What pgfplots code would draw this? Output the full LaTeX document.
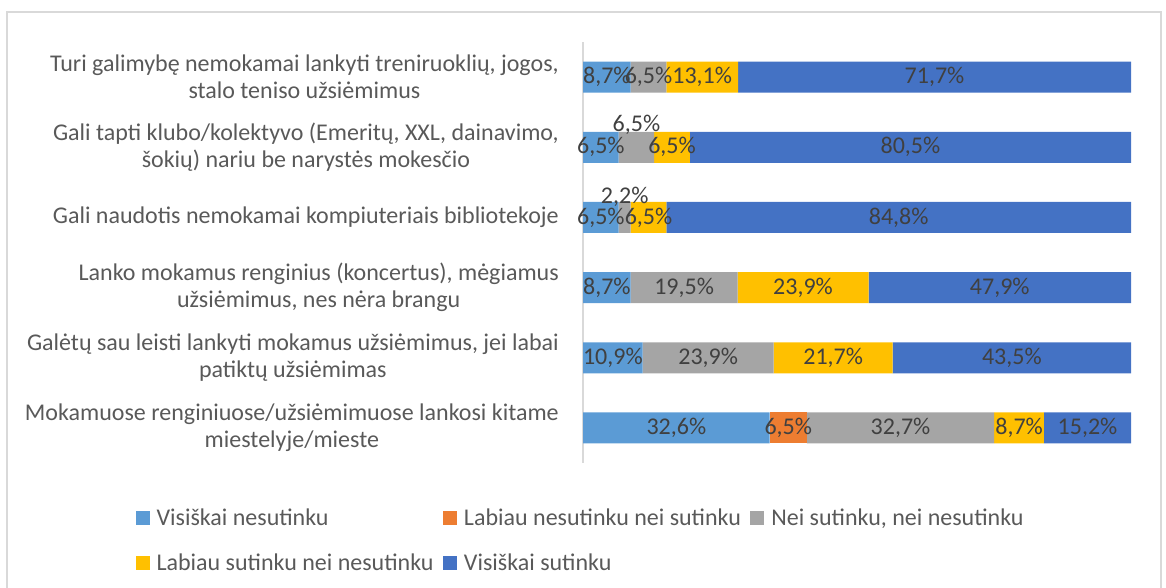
\documentclass[border=0pt]{standalone}
\usepackage{fontspec}
\setmainfont{Carlito}
\usepackage{pgfplots}
\usepackage{pgfplotstable}
\pgfplotsset{compat=1.18}
\definecolor{c1}{HTML}{5B9BD5}
\definecolor{c2}{HTML}{ED7D31}
\definecolor{c3}{HTML}{A5A5A5}
\definecolor{c4}{HTML}{FFC000}
\definecolor{c5}{HTML}{4472C4}
\definecolor{txt}{HTML}{595959}
\definecolor{lbl}{HTML}{404040}
\definecolor{axgray}{HTML}{D9D9D9}

\pgfplotstableread{
row a b c d e tot cs
0 8.7 0 6.5 13.1 71.7 100 0
1 6.5 0 6.5 6.5 80.5 100 0.32
2 6.5 0 2.2 6.5 84.8 100 0.30
3 8.7 0 19.5 23.9 47.9 100 0
4 10.9 0 23.9 21.7 43.5 100 0
5 32.6 6.5 32.7 8.7 15.2 95.7 0
}\data

\newcommand{\fnt}{\fontsize{18}{20.25}\selectfont}

\pgfplotsset{base/.style={scale only axis, width=411pt, height=315.75pt,
  at={(437.25pt,-31.5pt)}, anchor=north west,
  xmin=0, xmax=100, ymin=-0.5, ymax=5.5, y dir=reverse}}

\begin{document}
\begin{tikzpicture}
\useasboundingbox (0,0) rectangle (874.5pt,-440.25pt);
\draw[axgray, line width=1.5pt] (5.25pt,-8.75pt) rectangle (870.75pt,-470pt);
\begin{axis}[base,
  xbar stacked, bar width=23.25pt,
  axis x line=none, axis y line*=left,
  y axis line style={draw=axgray, line width=1.5pt},
  ytick={0,...,5}, major tick length=0pt,
  yticklabels={
    {Turi galimybę nemokamai lankyti treniruoklių, jogos,\\stalo teniso užsiėmimus},
    {Gali tapti klubo/kolektyvo (Emeritų, XXL, dainavimo,\\šokių) nariu be narystės mokesčio},
    {Gali naudotis nemokamai kompiuteriais bibliotekoje},
    {Lanko mokamus renginius (koncertus), mėgiamus\\užsiėmimus, nes nėra brangu},
    {Galėtų sau leisti lankyti mokamus užsiėmimus, jei labai\\patiktų užsiėmimas},
    {Mokamuose renginiuose/užsiėmimuose lankosi kitame\\miestelyje/mieste}},
  yticklabel style={font=\fnt, text=txt, align=center, inner sep=0pt, xshift=-18pt},
  legend columns=3,
  legend style={at={(-0.817,-0.105)}, anchor=north west, draw=none, fill=none,
    font=\fnt, text=txt, inner sep=0pt, row sep=18pt,
    nodes={inner xsep=2pt, inner ysep=1pt},
    /tikz/every odd column/.append style={column sep=3.25pt},
    /tikz/every even column/.append style={column sep=5pt}},
  legend cell align=left,
  legend image code/.code={\fill[#1] (0pt,-5.25pt) rectangle (10.5pt,5.25pt);},
]
\addplot[fill=c1, draw=none] table[y=row, x expr=\thisrow{a}*100/\thisrow{tot}]{\data};
\addlegendentry{Visiškai nesutinku}
\addplot[fill=c2, draw=none] table[y=row, x expr=\thisrow{b}*100/\thisrow{tot}]{\data};
\addlegendentry{Labiau nesutinku nei sutinku}
\addplot[fill=c3, draw=none] table[y=row, x expr=\thisrow{c}*100/\thisrow{tot}]{\data};
\addlegendentry{Nei sutinku, nei nesutinku}
\addplot[fill=c4, draw=none] table[y=row, x expr=\thisrow{d}*100/\thisrow{tot}]{\data};
\addlegendentry{Labiau sutinku nei nesutinku}
\addplot[fill=c5, draw=none] table[y=row, x expr=\thisrow{e}*100/\thisrow{tot}]{\data};
\addlegendentry{Visiškai sutinku}
\end{axis}
\begin{axis}[base, hide axis,
  point meta=explicit,
  nodes near coords={\pgfmathfloatifflags{\pgfplotspointmeta}{0}{}{\pgfmathprintnumber{\pgfplotspointmeta}\%}},
  every node near coord/.append style={anchor=center, font=\fnt, text=lbl, inner sep=0pt},
  /pgf/number format/.cd, use comma, fixed, fixed zerofill, precision=1, assume math mode=true,
]
\addplot[only marks, mark=none] table[y=row, meta=a,
  x expr=(\thisrow{a}/2)*100/\thisrow{tot}]{\data};
\addplot[only marks, mark=none] table[y=row, meta=b,
  x expr=(\thisrow{a}+\thisrow{b}/2)*100/\thisrow{tot}]{\data};
\addplot[only marks, mark=none] table[meta=c,
  y expr=\thisrow{row}-\thisrow{cs},
  x expr=(\thisrow{a}+\thisrow{b}+\thisrow{c}/2)*100/\thisrow{tot}]{\data};
\addplot[only marks, mark=none] table[y=row, meta=d,
  x expr=(\thisrow{a}+\thisrow{b}+\thisrow{c}+\thisrow{d}/2)*100/\thisrow{tot}]{\data};
\addplot[only marks, mark=none] table[y=row, meta=e,
  x expr=(\thisrow{a}+\thisrow{b}+\thisrow{c}+\thisrow{d}+\thisrow{e}/2)*100/\thisrow{tot}]{\data};
\end{axis}
\end{tikzpicture}
\end{document}
